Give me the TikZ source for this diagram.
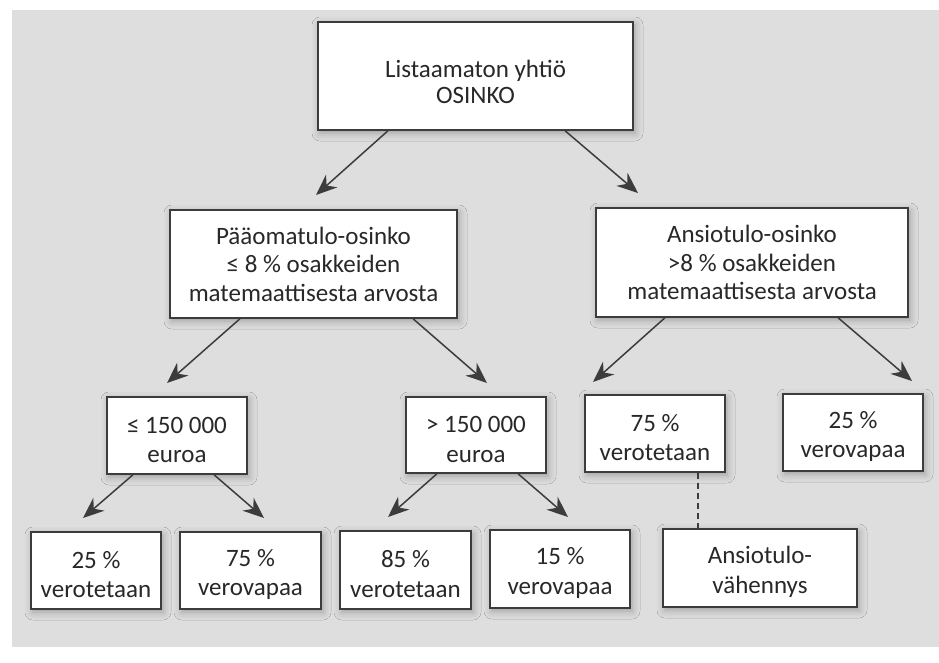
\documentclass[tikz,border=0pt]{standalone}
\usepackage{fontspec}
\setmainfont{Carlito}
\usetikzlibrary{arrows.meta,shadows.blur}
\definecolor{panel}{RGB}{222,222,222}
\definecolor{ink}{RGB}{60,60,60}
\definecolor{txt}{RGB}{40,40,40}
\newcommand\sinkA{\rule{0pt}{30pt}}
\newcommand\sinkB{\rule{0pt}{25pt}}
\begin{document}
\begin{tikzpicture}[x=1pt,y=-1pt,
  box/.style={draw=ink, line width=1.4pt, fill=white, align=center,
    font=\fontsize{25}{29.5}\selectfont, text=txt, inner sep=0pt,
    blur shadow={shadow xshift=2pt, shadow yshift=-3pt, shadow blur radius=8pt, shadow opacity=30}},
  arr/.style={draw=ink, line width=1.5pt, -{Stealth[length=21pt,width=17pt]}},
  dashline/.style={draw=ink, line width=1.2pt, dash pattern=on 6pt off 4pt}
]
\useasboundingbox (0,0) rectangle (939,662);
\fill[white] (0,0) rectangle (939,662);
\fill[panel] (12,10) rectangle (939,647);

% nodes
\node[box, minimum width=315pt, minimum height=108pt, font=\fontsize{25}{26}\selectfont] (top) at (475.5,76) {\sinkA Listaamaton yhtiö\\OSINKO};
\node[box, minimum width=287pt, minimum height=108pt, font=\fontsize{25}{28.5}\selectfont] (pm) at (313.5,264) {Pääomatulo-osinko\\≤ 8 \% osakkeiden\\matemaattisesta arvosta};
\node[box, minimum width=312pt, minimum height=109pt, font=\fontsize{25}{28.5}\selectfont] (at) at (752,262.5) {Ansiotulo-osinko\\>8 \% osakkeiden\\matemaattisesta arvosta};
\node[box, minimum width=140pt, minimum height=77pt] (le) at (177,435.5) {\sinkB≤ 150 000\\euroa};
\node[box, minimum width=140pt, minimum height=76pt] (gt) at (476,435) {\sinkB> 150 000\\euroa};
\node[box, minimum width=140pt, minimum height=77pt] (v75) at (655,433.5) {\sinkB 75 \%\\verotetaan};
\node[box, minimum width=140pt, minimum height=77pt] (f25) at (853,432.5) {\sinkB 25 \%\\verovapaa};
\node[box, minimum width=130pt, minimum height=77pt] (b1) at (96,570.5) {\sinkB 25 \%\\verotetaan};
\node[box, minimum width=141pt, minimum height=77pt] (b2) at (250.5,570.5) {\sinkB 75 \%\\verovapaa};
\node[box, minimum width=131pt, minimum height=78pt] (b3) at (405.5,570) {\sinkB 85 \%\\verotetaan};
\node[box, minimum width=140pt, minimum height=78pt] (b4) at (560,569) {\sinkB 15 \%\\verovapaa};
\node[box, minimum width=194pt, minimum height=78pt] (av) at (760,568) {\sinkB Ansiotulo-\\vähennys};

% arrow tips
\coordinate (t1) at (316,195);
\coordinate (t2) at (638,193);
\coordinate (t3) at (167,383);
\coordinate (t4) at (487,383);
\coordinate (t5) at (593,382);
\coordinate (t6) at (912,381);
\coordinate (t7) at (83,518);
\coordinate (t8) at (264,518);
\coordinate (t9) at (388,517);
\coordinate (t10) at (568,517);

\draw[arr] ([xshift=-87.5pt]top.south) -- (t1);
\draw[arr] ([xshift=89.5pt]top.south) -- (t2);
\draw[arr] ([xshift=-73.5pt]pm.south) -- (t3);
\draw[arr] ([xshift=99.5pt]pm.south) -- (t4);
\draw[arr] ([xshift=-87pt]at.south) -- (t5);
\draw[arr] ([xshift=86pt]at.south) -- (t6);
\draw[arr] ([xshift=-44pt]le.south) -- (t7);
\draw[arr] ([xshift=37pt]le.south) -- (t8);
\draw[arr] ([xshift=-39pt]gt.south) -- (t9);
\draw[arr] ([xshift=42pt]gt.south) -- (t10);

\draw[dashline] ([xshift=43pt]v75.south) -- ([xshift=43pt]v75.south |- av.north);
\end{tikzpicture}
\end{document}
